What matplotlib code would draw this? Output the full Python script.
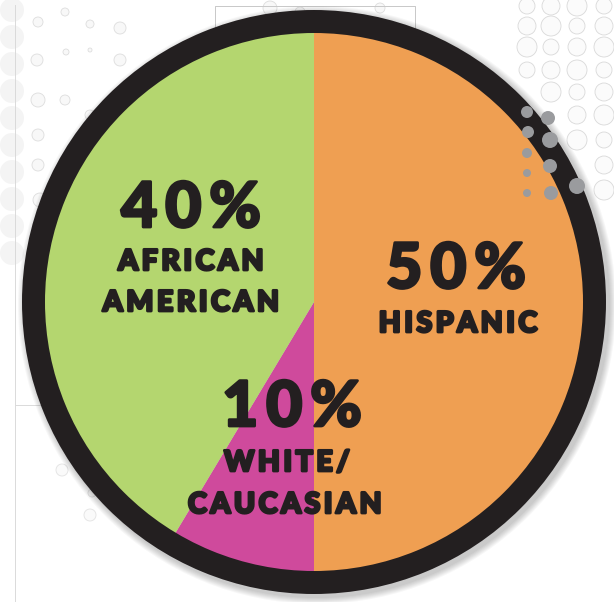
import matplotlib.pyplot as plt
from matplotlib.patches import Wedge, Circle
import matplotlib.patheffects as pe

# datos del grafico
rotulos_pct = ["50%", "10%", "40%"]
categorias = ["HISPANIC", "WHITE/\nCAUCASIAN", "AFRICAN\nAMERICAN"]
# tamano de cada porcion tal como esta dibujada (la rosa ocupa unos 31 grados)
porciones = [50, 8.6, 41.4]
colores = ["#EF9F52", "#CF4A9C", "#B4D66F"]

W, H = 614, 602
fig = plt.figure(figsize=(W / 100, H / 100), dpi=100)
ax = fig.add_axes([0, 0, 1, 1])

def yy(y):
    # coordenadas de imagen -> datos
    return H - y

cx, cy = 314, yy(302)
r_ext = 292
r_int = 270

# fondo: circulitos claros (rejilla arriba a la derecha)
for i, x in enumerate([527, 551, 577, 604]):
    for j, y in enumerate([6, 26, 47, 70, 92, 115, 140, 165, 190, 215, 240]):
        r = 8 + (i + j) % 3
        if (x - 314) ** 2 + (y - 304) ** 2 < (r_ext + 14) ** 2:
            continue
        ax.add_patch(Circle((x, yy(y)), r, facecolor="#FBFBFB", edgecolor="#D9D9D9", lw=0.6, zorder=0))
# columna izquierda
for y in range(10, 260, 27):
    ax.add_patch(Circle((12, yy(y)), 12, facecolor="#F4F4F4", edgecolor="none", zorder=0))
sueltos = [(38, 22, 5), (37, 60, 6), (38, 100, 7), (38, 135, 6), (38, 165, 6), (40, 200, 7),
           (90, 24, 4), (120, 28, 6), (65, 12, 4), (120, 60, 6), (65, 100, 5), (66, 52, 3),
           (90, 50, 2), (90, 115, 5), (40, 228, 7), (270, 8, 7), (300, 12, 5), (380, 8, 5)]
for (x, y, r) in sueltos:
    ax.add_patch(Circle((x, yy(y)), r, facecolor="#F8F8F8", edgecolor="#DDDDDD", lw=0.6, zorder=0))
for (x, y, r) in [(62, 470, 6), (92, 493, 4), (90, 515, 6)]:
    ax.add_patch(Circle((x, yy(y)), r, facecolor="#FAFAFA", edgecolor="#E2E2E2", lw=0.6, zorder=0))

# lineas finas de fondo
ax.plot([15, 15], [yy(5), yy(602)], color="#DADADA", lw=0.7, zorder=0)
ax.plot([15, 300], [yy(405), yy(405)], color="#DADADA", lw=0.7, zorder=0)
ax.plot([215, 215, 415, 415], [yy(40), yy(6), yy(6), yy(40)], color="#C8C8C8", lw=0.7, zorder=0)

# sombra del aro
for k in range(7):
    ax.add_patch(Circle((cx + 3, cy - 3), r_ext + 1 + k, facecolor="#000000", alpha=0.03, lw=0, zorder=1))

ax.pie(porciones, colors=colores, startangle=90, counterclock=False,
       center=(cx, cy), radius=r_int, wedgeprops=dict(linewidth=0), frame=True)
ax.set_xlim(0, W)
ax.set_ylim(0, H)
ax.axis('off')

# aro negro
ax.add_patch(Wedge((cx, cy), r_ext, 0, 360, width=r_ext - r_int + 1, facecolor="#231F20", lw=0, zorder=5))

# puntos grises arriba a la derecha
puntos = [(527, 112, 6), (528, 132, 6), (527, 153, 5), (527, 173, 4), (527, 193, 4),
          (550, 140, 8), (550, 166, 7), (551, 193, 7), (577, 186, 8), (548, 118, 7)]
for (x, y, r) in puntos:
    ax.add_patch(Circle((x, yy(y)), r, facecolor="#9A9B9E", lw=0, zorder=6))

fuente = "Lato"
tinta = "#231F20"
efecto = [pe.withStroke(linewidth=2.0, foreground=tinta)]

def rotulo(x, y, txt, size):
    ax.text(x, yy(y), txt, ha='center', va='center', fontsize=size, fontfamily=fuente,
            fontweight='black', color=tinta, zorder=7, path_effects=efecto)

def espaciar(s):
    return "\u2009".join(s)

# posiciones de los rotulos (imagen)
pos_pct = [(456, 270), (292, 408), (191, 209)]
pos_cat = [[(458, 324)], [(287, 463), (285, 505)], [(191, 262), (191, 303)]]

for pct, cat, pp, pc in zip(rotulos_pct, categorias, pos_pct, pos_cat):
    rotulo(pp[0], pp[1], espaciar(pct), 45)
    for linea, (x, y) in zip(cat.split("\n"), pc):
        rotulo(x, y, espaciar(linea), 20.5)

fig.savefig("out.png", dpi=100)
